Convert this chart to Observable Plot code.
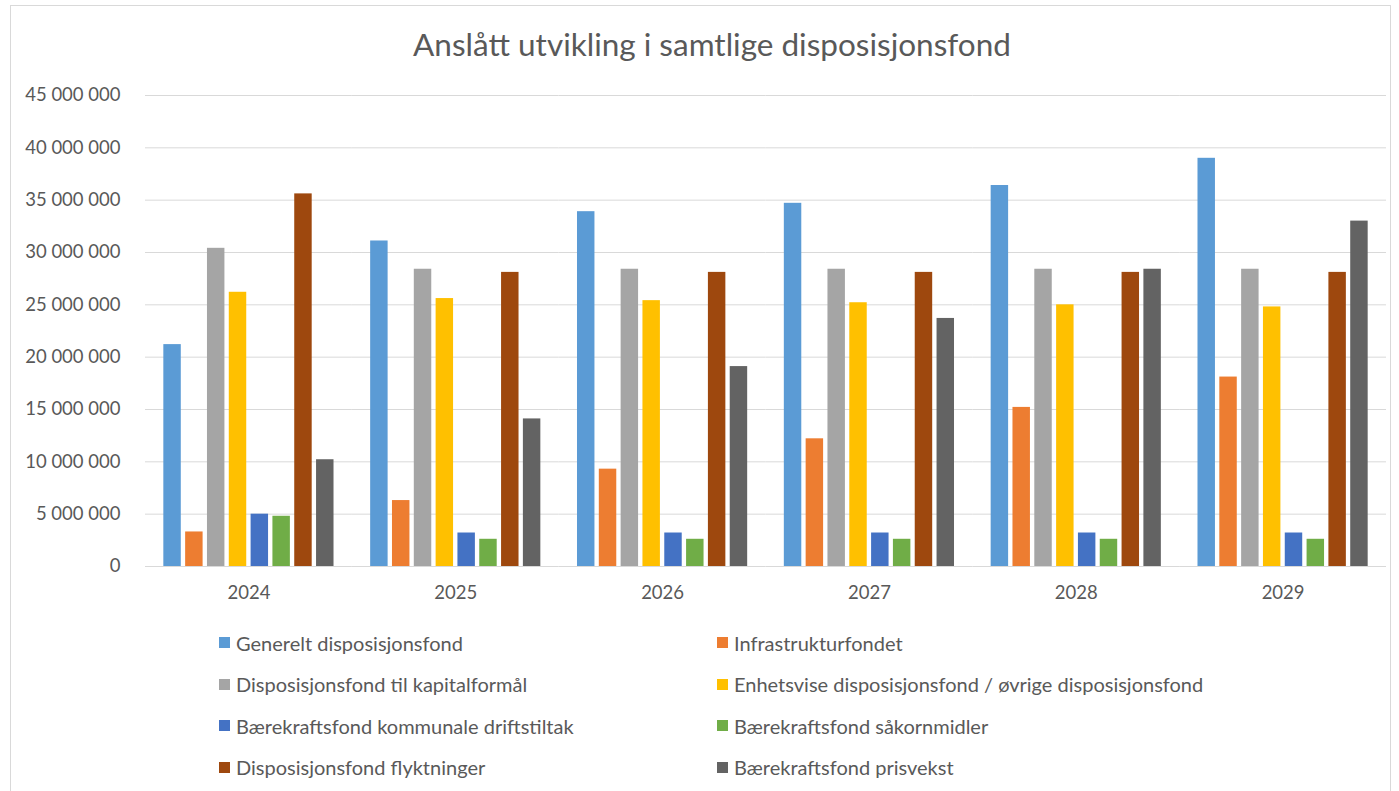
<!DOCTYPE html>
<html>
<head>
<meta charset="utf-8">
<script src="https://cdn.jsdelivr.net/npm/d3@7"></script>
<script src="https://cdn.jsdelivr.net/npm/@observablehq/plot@0.6"></script>
<style>
  html, body { margin: 0; padding: 0; background: #fff; }
  body { width: 1399px; height: 791px; overflow: hidden; font-family: Lato, "Liberation Sans", sans-serif; color: #595959; }
  #wrap { position: relative; width: 1399px; height: 791px; }
  #frame { position: absolute; left: 10px; top: 5px; width: 1381px; height: 800px; border: 1px solid #d9d9d9; box-sizing: border-box; }
  #title { position: absolute; left: 0; width: 1424px; top: 24px; text-align: center; font-size: 31.5px; line-height: 40px; color: #595959; }
  #chart { position: absolute; left: 0; top: 80px; }
  #legend { position: absolute; left: 219px; top: 622px; display: grid; grid-template-columns: 498px 600px; row-gap: 0; }
  .item { display: flex; align-items: center; height: 41.5px; font-size: 20px; color: #595959; }
  .sw { width: 11px; height: 11px; margin-right: 6px; flex: none; }
</style>
</head>
<body>
<div id="wrap">
  <div id="frame"></div>
  <div id="title">Anslått utvikling i samtlige disposisjonsfond</div>
  <div id="chart"></div>
  <div id="legend"></div>
</div>
<script>
const years = ["2024", "2025", "2026", "2027", "2028", "2029"];
const series = [
  "Generelt disposisjonsfond",
  "Infrastrukturfondet",
  "Disposisjonsfond til kapitalformål",
  "Enhetsvise disposisjonsfond / øvrige disposisjonsfond",
  "Bærekraftsfond kommunale driftstiltak",
  "Bærekraftsfond såkornmidler",
  "Disposisjonsfond flyktninger",
  "Bærekraftsfond prisvekst"
];
const colors = ["#5B9BD5", "#ED7D31", "#A5A5A5", "#FFC000", "#4472C4", "#70AD47", "#9E480E", "#636363"];

// values per series, one per year (2024..2029)
const generelt     = [21200000, 31100000, 33900000, 34700000, 36400000, 39000000];
const infrastruktur = [3300000, 6300000, 9300000, 12200000, 15200000, 18100000];
const kapital      = [30400000, 28400000, 28400000, 28400000, 28400000, 28400000];
const enhetsvise   = [26200000, 25600000, 25400000, 25200000, 25000000, 24800000];
const drift        = [5000000, 3200000, 3200000, 3200000, 3200000, 3200000];
const sakorn       = [4800000, 2600000, 2600000, 2600000, 2600000, 2600000];
const flyktninger  = [35600000, 28100000, 28100000, 28100000, 28100000, 28100000];
const prisvekst    = [10200000, 14100000, 19100000, 23700000, 28400000, 33000000];

const yTicks = [0, 5000000, 10000000, 15000000, 20000000, 25000000, 30000000, 35000000, 40000000, 45000000];

const seriesValues = [generelt, infrastruktur, kapital, enhetsvise, drift, sakorn, flyktninger, prisvekst];
const data = [];
years.forEach((yr, i) => {
  series.forEach((s, j) => data.push({year: yr, series: s, value: seriesValues[j][i]}));
});

const fmt = d => d3.format(",")(d).replace(/,/g, " ");

const chart = Plot.plot({
  width: 1399,
  height: 526,
  marginLeft: 145,
  marginRight: 13,
  marginTop: 15,
  marginBottom: 40,
  style: {fontFamily: "Lato, 'Liberation Sans', sans-serif", color: "#595959", background: "transparent"},
  fx: {domain: years, padding: 0, round: false, label: null},
  x: {domain: series, paddingInner: 0.2, paddingOuter: 0.84, round: false, axis: null},
  y: {domain: [0, 45000000]},
  color: {domain: series, range: colors},
  marks: [
    Plot.gridY(yTicks, {stroke: "#d9d9d9", strokeOpacity: 1, strokeWidth: 1}),
    Plot.axisY(yTicks, {tickSize: 0, tickPadding: 25, tickFormat: fmt, label: null, fontSize: 18.5, fill: "#595959"}),
    Plot.axisFx({anchor: "bottom", tickSize: 0, tickPadding: 19, label: null, fontSize: 18.5, fill: "#595959"}),
    Plot.barY(data, {fx: "year", x: "series", y: "value", fill: "series"})
  ]
});
document.getElementById("chart").appendChild(chart);

// legend: two columns, row-major order
const legend = document.getElementById("legend");
series.forEach((s, j) => {
  const item = document.createElement("div");
  item.className = "item";
  const sw = document.createElement("span");
  sw.className = "sw";
  sw.style.background = colors[j];
  const t = document.createElement("span");
  t.textContent = s;
  item.appendChild(sw);
  item.appendChild(t);
  legend.appendChild(item);
});
</script>
</body>
</html>
